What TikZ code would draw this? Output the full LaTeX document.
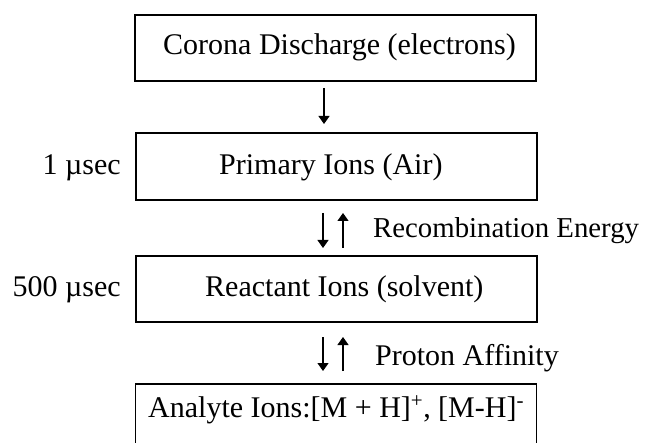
\documentclass[tikz,border=0pt]{standalone}
\usepackage{fontspec}
\setmainfont{Liberation Serif}
\usetikzlibrary{arrows.meta}
\begin{document}
\begin{tikzpicture}[x=1pt,y=-1pt,
  box/.style={draw,line width=1.5pt,minimum width=401pt,minimum height=66pt,inner sep=0pt,outer sep=0pt},
  lbl/.style={font=\fontsize{30}{36}\selectfont,inner sep=0pt},
  arr/.style={line width=1.3pt,-{Triangle[length=8pt,width=11pt]}}]
\useasboundingbox (0,0) rectangle (647,443);
\clip (0,0) rectangle (647,443);
\node[box] (b1) at (335.5,48) {};
\node[box,minimum height=67pt] (b2) at (336.5,166.5) {};
\node[box] (b3) at (336.5,289) {};
\node[box] (b4) at (336,417) {};
\node[lbl,anchor=base west] (t1) at (163,55) {Corona Discharge (electrons)};
\node[lbl,anchor=base west] (t2) at (219,175) {Primary Ions (Air)};
\node[lbl,anchor=base west] (t3) at (205,297) {Reactant Ions (solvent)};
\node[lbl,anchor=base west] (t4) at (148,417) {Analyte Ions:[M + H]\textsuperscript{+}, [M-H]\textsuperscript{-}};
\node[lbl,anchor=base east] (l1) at (121,175) {1 µsec};
\node[lbl,anchor=base east] (l2) at (121,297) {500 µsec};
\node[lbl,anchor=base west,font=\fontsize{28.8}{34}\selectfont] (r1) at (373,238) {Recombination Energy};
\node[lbl,anchor=base west] (r2) at (375,365) {Proton Affinity};
\coordinate (a1s) at (324,88);
\coordinate (a1e) at (324,124);
\coordinate (d1s) at (323,213);
\coordinate (d1e) at (323,248);
\coordinate (u1s) at (343,248);
\coordinate (u1e) at (343,213);
\coordinate (d2s) at (323,337);
\coordinate (d2e) at (323,371);
\coordinate (u2s) at (343,371);
\coordinate (u2e) at (343,337);
\draw[arr] (a1s) -- (a1e);
\draw[arr] (d1s) -- (d1e);
\draw[arr] (u1s) -- (u1e);
\draw[arr] (d2s) -- (d2e);
\draw[arr] (u2s) -- (u2e);
\end{tikzpicture}
\end{document}
